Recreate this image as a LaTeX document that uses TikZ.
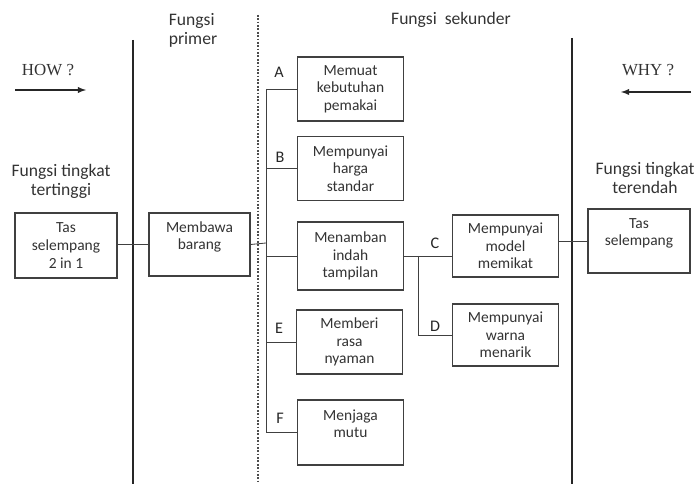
\documentclass[tikz,border=0pt]{standalone}
\usepackage{fontspec}
\setmainfont{Carlito}
\newfontfamily\howfont{Liberation Serif}
\usetikzlibrary{positioning}

\tikzset{
  fbox/.style={draw=black!75, line width=0.9pt, align=center, text=black!80,
    font=\fontsize{11}{12.5}\selectfont, inner sep=1pt,
    minimum width=2.65cm, minimum height=1.6cm},
  conn/.style={draw=black!75, line width=0.6pt},
  label/.style={text=black!80, font=\fontsize{12.5}{13.5}\selectfont, align=center},
  letter/.style={text=black!85, font=\fontsize{11.5}{13}\selectfont}
}

\begin{document}
\begin{tikzpicture}[x=0.025cm, y=-0.025cm]
  \useasboundingbox (0,0) rectangle (696,484);

  % Draw dividers
  \draw[line width=2pt, black!85] (133,40) -- (133,484);
  \draw[line width=2pt, black!85] (572,38) -- (572,484);
  \draw[line width=1pt, black!70, dash pattern=on 1.2pt off 1.2pt] (258,15) -- (258,484);

  % Headings
  \node[label, align=left] (hprim) at (193,30) {Fungsi\\primer};
  \node[label] (hsek) at (451,20) {Fungsi\ \ sekunder};
  \node[label] (htop) at (61,181) {Fungsi tingkat\\tertinggi};
  \node[label] (hlow) at (645,178) {Fungsi tingkat\\terendah};

  % How and why
  \node[font=\howfont\fontsize{12}{14}\selectfont, text=black!80] (how) at (48,70) {HOW ?};
  \node[font=\howfont\fontsize{12}{14}\selectfont, text=black!80] (why) at (648,70) {WHY ?};
  \coordinate (howS) at (15,90);
  \coordinate (howE) at (86,90);
  \coordinate (whyS) at (691,92);
  \coordinate (whyE) at (621,92);
  \draw[-latex, line width=1pt, black!85] (howS) -- (howE);
  \draw[-latex, line width=1pt, black!85] (whyS) -- (whyE);

  % Boxes
  \node[fbox, minimum width=2.55cm, minimum height=1.625cm] (tas) at (66,245.5) {Tas\\selempang\\2 in 1};
  \node[fbox, minimum width=2.525cm, minimum height=1.575cm] (mb) at (199.5,244.5) {Membawa\\barang\\~};
  \node[fbox] (A) at (350.5,89) {Memuat\\kebutuhan\\pemakai};
  \node[fbox] (B) at (350.5,168.5) {Mempunyai\\harga\\standar};
  \node[fbox, minimum height=1.7cm] (mn) at (350.5,256) {Menamban\\indah\\tampilan};
  \node[fbox] (E) at (349.5,342) {Memberi\\rasa\\nyaman};
  \node[fbox, minimum height=1.625cm] (F) at (350.5,432.5) {Menjaga\\mutu\\~};
  \node[fbox, minimum height=1.55cm] (C) at (505.5,246) {Mempunyai\\model\\memikat};
  \node[fbox, minimum height=1.55cm] (D) at (505.5,335) {Mempunyai\\warna\\menarik};
  \node[fbox, minimum width=2.55cm] (R) at (639,241) {Tas\\selempang\\~};

  % Connectors
  \coordinate (bus) at (266,243);
  \coordinate (sub) at (418,256);
  \draw[conn] (mb.west -| tas.east) -- (mb.west);
  \draw[conn] (mb.east) -- (bus);
  \draw[conn] (bus |- A.west) -- (bus |- F.west);
  \foreach \n in {A,B,mn,E,F}
    \draw[conn] (bus |- \n.west) -- (\n.west);
  \draw[conn] (mn.east) -- (mn.east -| C.west);
  \draw[conn] (sub) |- (D.west);
  \draw[conn] (R.west -| C.east) -- (R.west);

  % Letters
  \node[letter] (lA) at (279,72) {A};
  \node[letter] (lB) at (280,157) {B};
  \node[letter] (lC) at (435,243) {C};
  \node[letter] (lD) at (435,326) {D};
  \node[letter] (lE) at (279,328) {E};
  \node[letter] (lF) at (280,418) {F};

\end{tikzpicture}
\end{document}
